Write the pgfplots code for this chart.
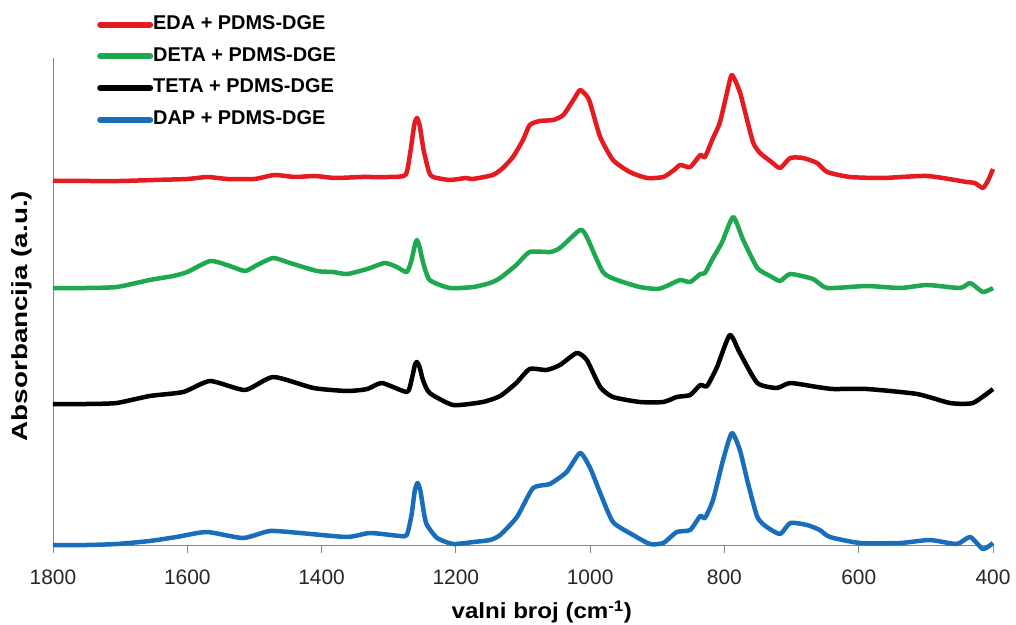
\documentclass[border=0pt]{standalone}
\usepackage{graphicx}
\usepackage{fontspec}
\setmainfont{Liberation Sans}
\usepackage{pgfplots}
\pgfplotsset{compat=1.18}
\definecolor{cred}{RGB}{228,28,34}
\definecolor{cgreen}{RGB}{30,168,80}
\definecolor{cblue}{RGB}{25,110,188}
\definecolor{caxis}{RGB}{134,134,134}
\begin{document}
\begin{tikzpicture}
\path[use as bounding box] (0,0) rectangle (1016bp,625bp);
\begin{axis}[
  at={(53bp,80bp)}, anchor=south west,
  scale only axis, width=940bp, height=487bp,
  xmin=400, xmax=1800, x dir=reverse,
  ymin=0, ymax=487,
  axis x line*=bottom, axis y line*=left,
  axis line style={caxis, line width=0.8bp},
  ytick=\empty,
  xtick={400,600,800,1000,1200,1400,1600,1800},
  tick align=outside, major tick length=8bp,
  x tick style={caxis, line width=0.8bp},
  /pgf/number format/assume math mode=true,
  /pgf/number format/1000 sep={},
  xticklabel style={font=\fontsize{21}{24}\selectfont, text=black!85, yshift=-13bp},
  xlabel={\scalebox{1.1}[1]{valni broj (cm\textsuperscript{-1})}},
  xlabel style={font=\bfseries\fontsize{22}{26}\selectfont, at={(axis description cs:0.52,-0.1376)}, anchor=center},
  ylabel={\scalebox{1.27}[1]{Absorbancija (a.u.)}},
  ylabel style={font=\bfseries\fontsize{22}{26}\selectfont, at={(axis description cs:-0.033,0.470)}, anchor=center, rotate=0},
  clip=false,
  legend style={at={(axis description cs:0.0468,1.1023)}, anchor=north west, draw=none, fill=none, inner sep=0pt,
    row sep=5.4bp, font=\bfseries\fontsize{20}{24}\selectfont,
    nodes={inner sep=0pt, text height=15bp, text depth=5bp}},
  legend cell align=left,
  legend image code/.code={\path (3bp,-6bp) (3bp,14bp); \draw[#1, line width=6bp, line cap=round, sharp plot] (3bp,0bp) -- (53bp,0bp);},
  every axis plot/.append style={line width=4.5bp, line join=round, smooth, tension=0.35},
]
\addplot[cred] coordinates {(1800,364)(1750,364)(1700,364)(1650,365)(1600,366)(1570,368)(1540,366)(1500,366)(1470,370)(1440,368)(1410,369)(1380,367)(1340,368)(1300,368)(1275,370)(1268,392)(1262,420)(1258,427)(1254,420)(1248,395)(1240,373)(1234,368)(1209,365)(1185,367)(1175,366)(1145,370)(1130,377)(1115,388)(1100,405)(1090,420)(1075,424)(1055,425)(1040,430)(1025,445)(1015,455)(1005,449)(1000,442)(985,408)(966,385)(941,373)(915,367)(891,368)(875,375)(866,380)(851,378)(836,390)(829,388)(817,407)(807,422)(797,450)(789,470)(777,453)(767,427)(757,402)(747,392)(730,383)(717,377)(702,387)(683,387)(662,382)(647,373)(613,368)(564,367)(498,369)(439,363)(427,362)(415,357)(407,365)(400,376)};
\addlegendentry{EDA + PDMS-DGE}
\addplot[cgreen] coordinates {(1800,257)(1750,257)(1705,258)(1656,265)(1621,269)(1600,273)(1566,284)(1541,280)(1514,274)(1496,280)(1472,287)(1447,282)(1407,274)(1383,273)(1362,271)(1332,276)(1306,282)(1288,278)(1273,273)(1266,285)(1261,300)(1258,305)(1254,298)(1249,283)(1239,265)(1209,257)(1174,258)(1149,262)(1134,267)(1110,280)(1090,293)(1060,293)(1045,297)(1015,315)(1005,308)(981,273)(960,265)(926,258)(900,256)(886,259)(866,265)(851,263)(836,271)(829,272)(817,287)(804,302)(787,328)(772,305)(751,277)(732,269)(717,264)(702,271)(668,266)(647,257)(588,259)(538,257)(498,260)(449,257)(434,262)(415,253)(400,257)};
\addlegendentry{DETA + PDMS-DGE}
\addplot[black] coordinates {(1800,141)(1750,141)(1705,142)(1656,149)(1606,153)(1566,164)(1514,155)(1472,168)(1412,157)(1362,154)(1332,156)(1310,162)(1273,153)(1266,165)(1261,180)(1258,183)(1254,178)(1249,165)(1239,152)(1204,140)(1160,143)(1134,149)(1110,162)(1090,176)(1065,175)(1045,180)(1020,192)(1005,185)(985,158)(966,148)(926,143)(891,143)(871,148)(851,150)(836,160)(826,159)(811,178)(792,210)(777,192)(751,162)(722,157)(702,162)(662,158)(638,156)(588,156)(513,151)(464,142)(430,142)(400,156)};
\addlegendentry{TETA + PDMS-DGE}
\addplot[cblue] coordinates {(1800,0)(1750,0)(1705,1)(1656,4)(1616,8)(1571,13)(1517,7)(1477,14)(1432,12)(1362,8)(1328,12)(1283,9)(1273,10)(1266,30)(1261,55)(1257,62)(1253,55)(1247,30)(1243,20)(1228,7)(1204,1)(1174,3)(1149,5)(1134,10)(1109,28)(1085,57)(1060,61)(1035,73)(1015,92)(1000,77)(985,52)(966,23)(936,10)(911,1)(891,2)(871,13)(851,15)(836,29)(829,27)(817,45)(802,85)(789,112)(777,95)(765,62)(751,28)(737,18)(717,11)(702,22)(677,20)(658,15)(643,8)(598,2)(538,2)(494,5)(454,1)(434,8)(415,-4)(400,2)};
\addlegendentry{DAP + PDMS-DGE}
\end{axis}
\end{tikzpicture}
\end{document}
